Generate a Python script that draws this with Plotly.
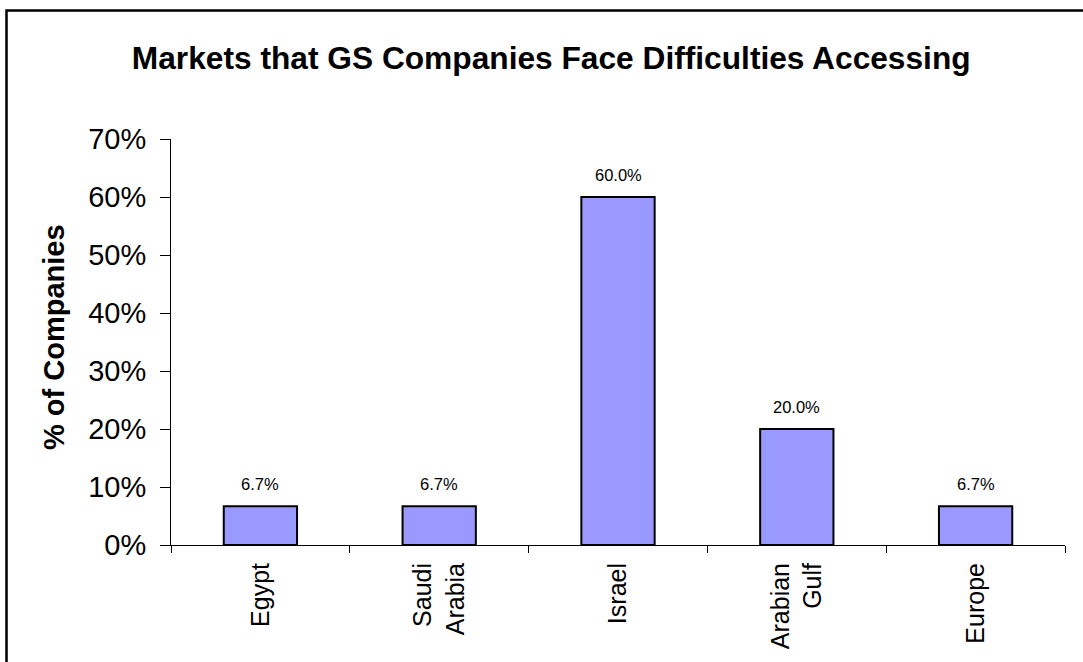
import plotly.graph_objects as go

# Survey results: share of GS companies reporting difficulty accessing each market
markets = ["Egypt", "Saudi<br>Arabia", "Israel", "Arabian<br>Gulf", "Europe"]
share = [0.067, 0.067, 0.600, 0.200, 0.067]
bar_labels = ["6.7%", "6.7%", "60.0%", "20.0%", "6.7%"]
y_ticks = [0.0, 0.1, 0.2, 0.3, 0.4, 0.5, 0.6, 0.7]

FONT = "Liberation Sans, Arial, sans-serif"

fig = go.Figure()
fig.add_trace(go.Bar(
    x=markets,
    y=share,
    width=0.41,
    marker=dict(color="#9999FF", line=dict(color="black", width=2)),
    hoverinfo="x+y",
))

# value labels above each bar
for m, v, lab in zip(markets, share, bar_labels):
    fig.add_annotation(
        x=m, y=v, text=lab, showarrow=False,
        xref="x", yref="y", yanchor="bottom", yshift=11,
        font=dict(family=FONT, size=16.5, color="black"),
    )

# y-axis title
fig.add_annotation(
    x=-0.131, y=0.512, xref="paper", yref="paper",
    text="<b>% of Companies</b>", textangle=-90, showarrow=False,
    xanchor="center", yanchor="middle",
    font=dict(family=FONT, size=29, color="black"),
)

# chart border
fig.add_shape(
    type="rect", xref="paper", yref="paper",
    x0=-0.184, x1=1.03, y0=-0.32, y1=1.3165,
    line=dict(color="black", width=2.5), fillcolor="rgba(0,0,0,0)",
    layer="above",
)

fig.update_layout(
    width=1083, height=662,
    margin=dict(l=171, r=18, t=139, b=117),
    paper_bgcolor="white", plot_bgcolor="white",
    showlegend=False,
    title=dict(
        text="<b>Markets that GS Companies Face Difficulties Accessing</b>",
        x=0.509, xref="container", xanchor="center",
        y=0.913, yref="container", yanchor="middle",
        font=dict(family=FONT, size=31.7, color="black"),
    ),
    font=dict(family=FONT, color="black"),
    bargap=0.59,
)

fig.update_xaxes(
    type="category",
    range=[-0.5, 4.5],
    showline=True, linecolor="black", linewidth=1,
    ticks="outside", ticklen=7, tickcolor="black", tickwidth=1,
    tickson="boundaries",
    tickangle=-90,
    tickfont=dict(family=FONT, size=25, color="black"),
    ticklabelstandoff=7,
    showgrid=False, zeroline=False,
)

fig.update_yaxes(
    range=[0, 0.7],
    tickvals=y_ticks,
    tickformat=".0%",
    showline=True, linecolor="black", linewidth=1,
    ticks="outside", ticklen=10, tickcolor="black", tickwidth=1,
    tickfont=dict(family=FONT, size=29, color="black"),
    ticklabelstandoff=8,
    showgrid=False, zeroline=False,
)

fig.write_html("out.html")
